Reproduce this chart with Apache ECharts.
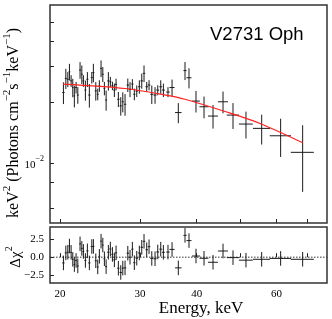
<!DOCTYPE html>
<html><head><meta charset="utf-8">
<script src="https://cdn.jsdelivr.net/npm/echarts@6/dist/echarts.min.js"></script>
<style>html,body{margin:0;padding:0;background:#fff}#c{width:332px;height:319px}</style>
</head><body><div id="c"></div>
<script>
const energy = [20.34,20.59,20.80,20.97,21.15,21.33,21.50,21.69,21.88,22.13,
 22.33,22.51,22.74,22.97,23.20,23.49,23.68,23.97,24.21,24.41,
 24.62,24.84,25.04,25.26,25.55,25.81,26.08,26.34,26.57,26.88,
 27.21,27.49,27.81,28.20,28.52,28.86,29.15,29.51,29.90,30.27,
 30.62,31.04,31.41,31.85,32.38,32.83,33.33,33.78,34.58,35.30,
 36.44,37.70,38.47,39.86,41.52,43.46,45.72,48.10,51.37,55.63,
 61.25,68.49];
const energyErr = [0.12,0.11,0.10,0.09,0.09,0.09,0.09,0.10,0.11,0.11,
 0.10,0.10,0.11,0.12,0.13,0.12,0.12,0.13,0.11,0.10,
 0.11,0.11,0.11,0.13,0.14,0.13,0.13,0.13,0.14,0.16,
 0.16,0.15,0.17,0.18,0.16,0.16,0.16,0.18,0.19,0.19,
 0.19,0.20,0.21,0.24,0.25,0.24,0.24,0.25,0.30,0.45,
 0.60,0.30,0.49,0.80,0.95,1.10,1.16,1.50,1.80,2.40,
 3.30,4.00];
const flux = [0.02234,0.02626,0.02599,0.02831,0.02552,0.02365,0.02151,0.02365,0.02171,0.02887,
 0.02752,0.02552,0.02298,0.02599,0.02171,0.02650,0.02806,0.02277,0.02191,0.02411,
 0.02943,0.02752,0.02343,0.02051,0.02552,0.02526,0.02411,0.02298,0.02455,0.02070,
 0.01919,0.02011,0.01955,0.02433,0.02319,0.02461,0.02191,0.02272,0.02386,0.02552,
 0.02780,0.02386,0.02433,0.02191,0.02171,0.02298,0.02386,0.02298,0.02247,0.02365,
 0.01778,0.02870,0.02644,0.02027,0.01900,0.01709,0.02011,0.01728,0.01560,0.01485,
 0.01365,0.01130];
const fluxErr = [0.00275,0.00299,0.00222,0.00268,0.00169,0.00248,0.00265,0.00156,0.00205,0.00273,
 0.00289,0.00169,0.00262,0.00222,0.00290,0.00175,0.00294,0.00239,0.00145,0.00159,
 0.00279,0.00235,0.00179,0.00234,0.00268,0.00144,0.00116,0.00176,0.00162,0.00177,
 0.00201,0.00229,0.00241,0.00186,0.00198,0.00140,0.00145,0.00150,0.00182,0.00218,
 0.00263,0.00136,0.00139,0.00230,0.00205,0.00131,0.00182,0.00176,0.00128,0.00224,
 0.00203,0.00295,0.00302,0.00248,0.00234,0.00228,0.00248,0.00253,0.00237,0.00250,
 0.00293,0.00410];
const residual = [-0.79,0.59,0.68,1.53,0.66,-0.30,-1.02,-0.45,-1.20,1.83,
 1.21,0.79,-0.45,0.87,-0.79,1.47,1.48,-0.50,-1.34,0.12,
 2.20,1.67,-0.22,-1.30,0.68,1.12,0.38,-0.37,0.60,-1.52,
 -2.10,-1.50,-1.47,0.55,-0.01,1.10,-0.76,-0.14,0.58,1.36,
 2.18,1.02,1.44,-0.17,-0.22,0.72,1.10,0.67,0.70,1.07,
 -1.47,3.00,2.28,0.16,-0.15,-0.70,0.85,-0.06,-0.41,-0.29,
 -0.17,-0.29];
const residualErr = 1.0;
const modelEnergy = [20.3, 27.8, 34.2, 37.7, 46.2, 55.2, 68.5];
const modelFlux = [0.0246, 0.0234, 0.0217, 0.0207, 0.0180, 0.0157, 0.0126];
const xTicks = [20, 30, 40, 50, 60, 70];
const xLabels = [20, 30, 40, 60];
const yTicks = [0.006, 0.008, 0.01, 0.02, 0.03, 0.04, 0.05];
const yLabels = [0.01];
const rTicks = [-2.5, 0, 2.5];
const X_MIN = 19.0, X_MAX = 77.5;
const Y_MIN = 0.00505, Y_MAX = 0.0606;
const R_MIN = -3.55, R_MAX = 4.15;

const SERIF = '"Liberation Serif","DejaVu Serif",serif';
const chart = echarts.init(document.getElementById('c'), null, {renderer: 'canvas'});

function errBar(params, api) {
  const x = api.value(0), y = api.value(1), dx = api.value(2), dy = api.value(3);
  const a = api.coord([x - dx, y]), b = api.coord([x + dx, y]);
  const c = api.coord([x, y - dy]), d = api.coord([x, y + dy]);
  const st = {stroke: '#1a1a1a', lineWidth: 1};
  return {type: 'group', children: [
    {type: 'line', shape: {x1: a[0], y1: a[1], x2: b[0], y2: b[1]}, style: st},
    {type: 'line', shape: {x1: c[0], y1: c[1], x2: d[0], y2: d[1]}, style: st}
  ]};
}

const specData = energy.map((e, i) => [e, flux[i], energyErr[i], fluxErr[i]]);
const resData = energy.map((e, i) => [e, residual[i], energyErr[i], residualErr]);
const modelData = modelEnergy.map((e, i) => [e, modelFlux[i]]);

const tickStyle = {inside: true, length: 4, lineStyle: {color: '#222', width: 1}};

const option = {
  animation: false,
  backgroundColor: '#fff',
  grid: [
    {left: 50, top: 5, width: 277, height: 218, show: true, borderColor: '#333', borderWidth: 1.5, backgroundColor: 'transparent'},
    {left: 50, top: 227, width: 277, height: 56, show: true, borderColor: '#333', borderWidth: 1.5, backgroundColor: 'transparent'}
  ],
  xAxis: [
    {type: 'log', logBase: 10, gridIndex: 0, min: X_MIN, max: X_MAX,
     axisLine: {show: false}, splitLine: {show: false},
     axisTick: Object.assign({customValues: xTicks}, tickStyle),
     axisLabel: {show: false}},
    {type: 'log', logBase: 10, gridIndex: 1, min: X_MIN, max: X_MAX,
     axisLine: {show: false}, splitLine: {show: false},
     axisTick: Object.assign({customValues: xTicks}, tickStyle),
     axisLabel: {customValues: xLabels, fontFamily: SERIF, fontSize: 11, color: '#000', margin: 6,
       formatter: v => String(Math.round(v))}}
  ],
  yAxis: [
    {type: 'log', logBase: 10, gridIndex: 0, min: Y_MIN, max: Y_MAX,
     axisLine: {show: false}, splitLine: {show: false},
     axisTick: Object.assign({customValues: yTicks}, tickStyle),
     axisLabel: {customValues: yLabels, margin: 6, color: '#000',
       formatter: () => '{a|10}{b|−2}',
       rich: {a: {fontFamily: SERIF, fontSize: 11, verticalAlign: 'bottom', lineHeight: 16, color: '#000'},
              b: {fontFamily: SERIF, fontSize: 8, verticalAlign: 'top', lineHeight: 10, color: '#000'}}}},
    {type: 'value', gridIndex: 1, min: R_MIN, max: R_MAX,
     axisLine: {show: false}, splitLine: {show: false},
     axisTick: Object.assign({customValues: rTicks}, tickStyle),
     axisLabel: {customValues: rTicks, fontFamily: SERIF, fontSize: 11, color: '#000', margin: 6,
       formatter: v => v.toFixed(1).replace('-', '−')}}
  ],
  series: [
    {type: 'custom', xAxisIndex: 0, yAxisIndex: 0, renderItem: errBar, data: specData,
     encode: {x: 0, y: 1}, clip: true, z: 2},
    {type: 'line', xAxisIndex: 0, yAxisIndex: 0, data: modelData, smooth: 0.3, showSymbol: false,
     symbol: 'none', lineStyle: {color: '#ff2020', width: 1.2}, z: 3},
    {type: 'line', xAxisIndex: 1, yAxisIndex: 1, data: [[X_MIN, 0], [X_MAX, 0]], symbol: 'none',
     lineStyle: {color: '#333', width: 1, type: [1.5, 1.5]}, z: 1},
    {type: 'custom', xAxisIndex: 1, yAxisIndex: 1, renderItem: errBar, data: resData,
     encode: {x: 0, y: 1}, clip: true, z: 2}
  ],
  graphic: [
    {type: 'text', left: 210, top: 25, style: {text: 'V2731 Oph', font: '18.5px "Liberation Sans", Arial, sans-serif', fill: '#000'}},
    {type: 'text', x: 12, y: 123, rotation: Math.PI / 2,
     style: {text: '{n|keV}{s|2}{n| (Photons cm}{s|−2}{n|s}{s|−1}{n|keV}{s|−1}{n|)}',
       align: 'center', verticalAlign: 'middle',
       rich: {n: {fontFamily: SERIF, fontSize: 16, verticalAlign: 'bottom', lineHeight: 20, fill: '#000', color: '#000'},
              s: {fontFamily: SERIF, fontSize: 11, verticalAlign: 'top', lineHeight: 13, fill: '#000', color: '#000'}}}},
    {type: 'text', x: 14, y: 257, rotation: Math.PI / 2,
     style: {text: '{n|Δχ}{s|2}', align: 'center', verticalAlign: 'middle',
       rich: {n: {fontFamily: SERIF, fontSize: 15, verticalAlign: 'bottom', lineHeight: 19, fill: '#000', color: '#000'},
              s: {fontFamily: SERIF, fontSize: 10, verticalAlign: 'top', lineHeight: 12, fill: '#000', color: '#000'}}}},
    {type: 'text', x: 201, y: 309, style: {text: 'Energy, keV', align: 'center', verticalAlign: 'middle',
       font: '17px "Liberation Serif", serif', fill: '#000'}}
  ]
};
chart.setOption(option);
</script></body></html>
